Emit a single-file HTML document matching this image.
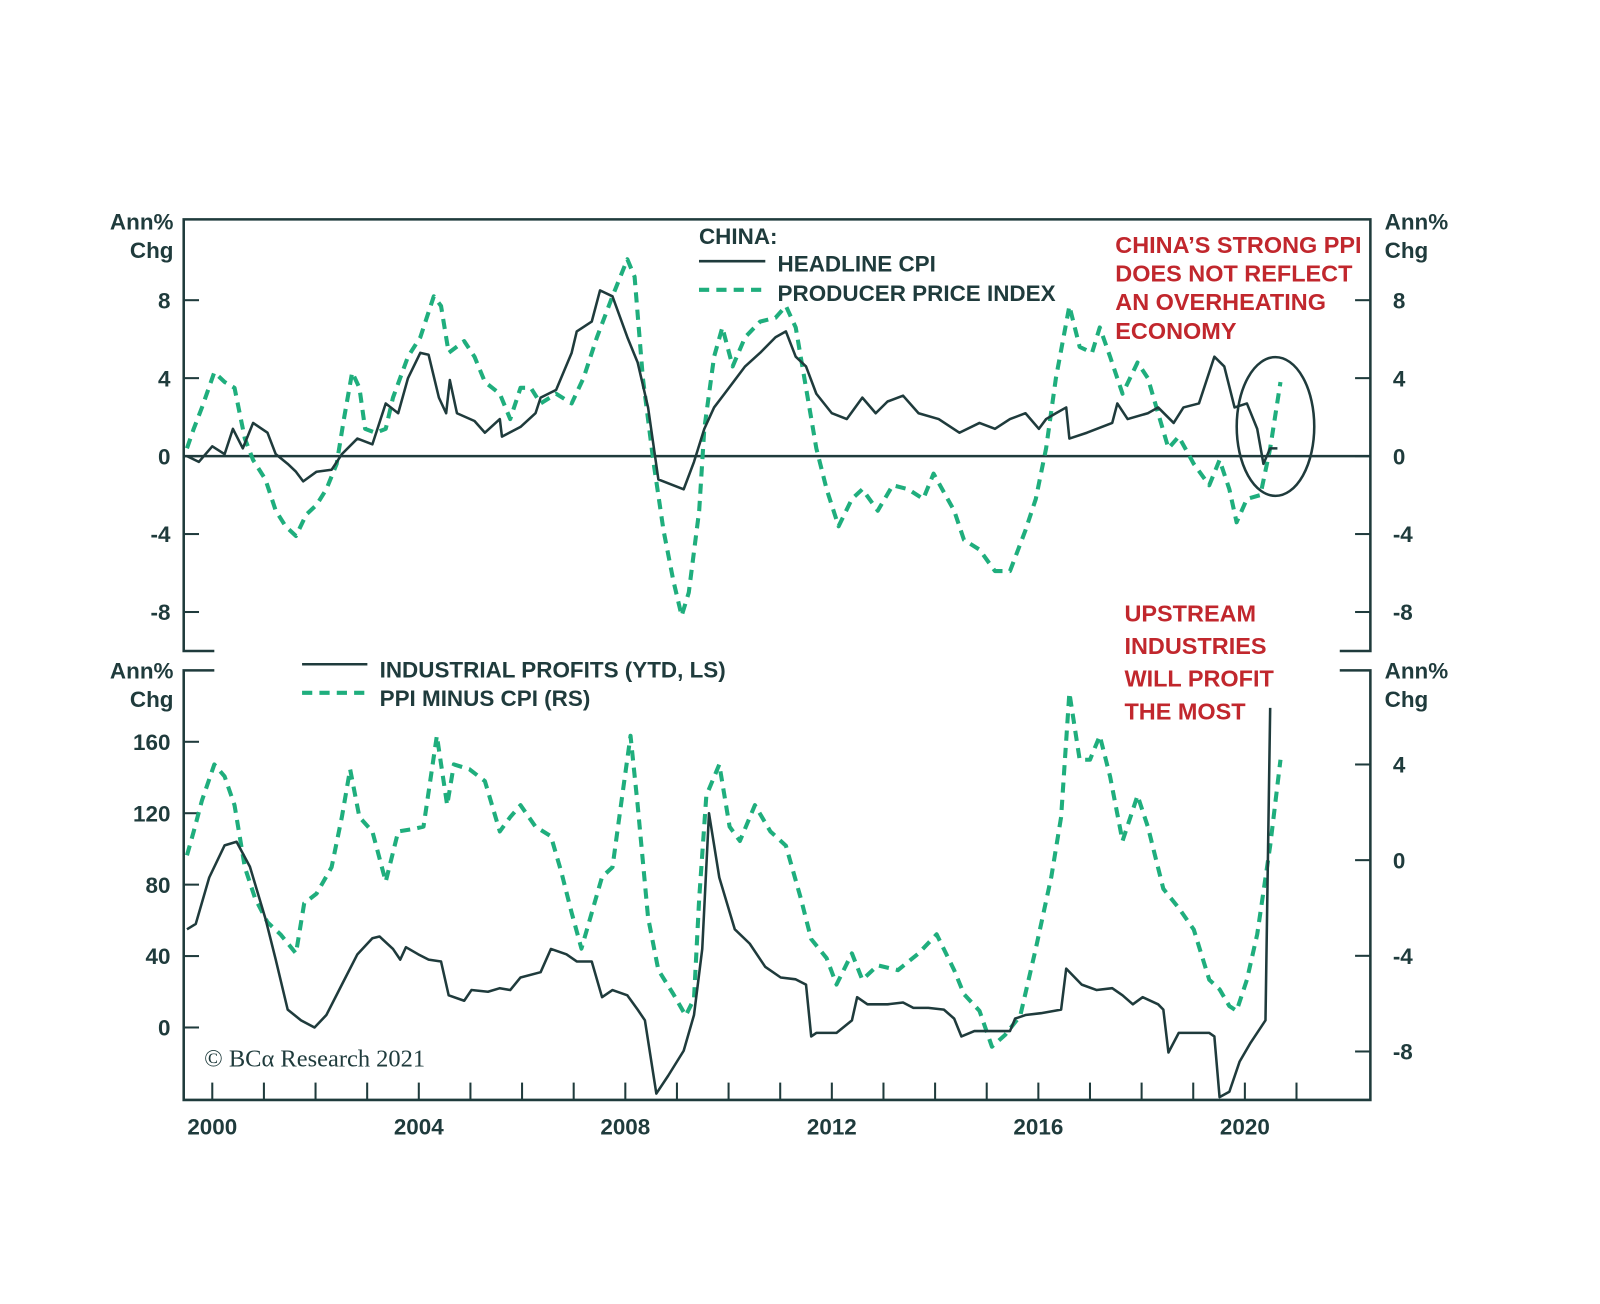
<!DOCTYPE html>
<html><head><meta charset="utf-8"><style>
html,body{margin:0;padding:0;background:#fff;}
svg{display:block;}
.s{font-family:"Liberation Sans",sans-serif;}
</style></head><body>
<svg id="chart" width="1600" height="1304" viewBox="0 0 1568 1278" xmlns="http://www.w3.org/2000/svg"></svg>
<script>
// ---- data ----
const xTickYears=[2000,2001,2002,2003,2004,2005,2006,2007,2008,2009,2010,2011,2012,2013,2014,2015,2016,2017,2018,2019,2020,2021];
const xLabelYears=[2000,2004,2008,2012,2016,2020];
const topTicks=[8,4,0,-4,-8];
const botLeftTicks=[160,120,80,40,0];
const botRightTicks=[4,0,-4,-8];

const cpiDates=[1999.51,1999.74,2000,2000.24,2000.40,2000.59,2000.79,2001.07,2001.23,2001.46,2001.62,2001.76,2002.02,2002.31,2002.51,2002.81,2003.10,2003.36,2003.60,2003.79,2004.03,2004.19,2004.39,2004.53,2004.60,2004.74,2005.08,2005.28,2005.57,2005.61,2005.97,2006.26,2006.36,2006.66,2006.96,2007.06,2007.35,2007.51,2007.75,2008.04,2008.24,2008.44,2008.64,2008.93,2009.13,2009.33,2009.53,2009.72,2009.92,2010.32,2010.61,2010.91,2011.11,2011.30,2011.50,2011.70,2012.00,2012.29,2012.59,2012.85,2013.08,2013.38,2013.68,2014.07,2014.47,2014.86,2015.16,2015.45,2015.75,2016.01,2016.15,2016.34,2016.54,2016.60,2016.94,2017.23,2017.43,2017.53,2017.73,2018.12,2018.32,2018.62,2018.81,2019.11,2019.41,2019.60,2019.80,2020.04,2020.24,2020.36,2020.49,2020.63];
const cpiValues=[0,-0.3,0.5,0.1,1.4,0.4,1.7,1.2,0.1,-0.4,-0.8,-1.3,-0.8,-0.7,0.1,0.9,0.6,2.7,2.2,4.0,5.3,5.2,3.0,2.2,3.9,2.2,1.8,1.2,1.9,1.0,1.5,2.2,3.0,3.4,5.3,6.4,6.9,8.5,8.2,6.1,4.8,2.5,-1.2,-1.5,-1.7,-0.3,1.4,2.5,3.2,4.6,5.3,6.1,6.4,5.1,4.6,3.2,2.2,1.9,3.0,2.2,2.8,3.1,2.2,1.9,1.2,1.7,1.4,1.9,2.2,1.4,1.9,2.2,2.5,0.9,1.2,1.5,1.7,2.7,1.9,2.2,2.5,1.7,2.5,2.7,5.1,4.6,2.5,2.7,1.4,-0.4,0.4,0.4];

const ppiDates=[1999.51,1999.64,1999.80,2000.04,2000.24,2000.43,2000.63,2000.79,2001.03,2001.23,2001.42,2001.62,2001.82,2002.02,2002.21,2002.41,2002.55,2002.71,2002.85,2002.96,2003.16,2003.36,2003.50,2003.79,2004.03,2004.29,2004.43,2004.58,2004.88,2005.08,2005.28,2005.57,2005.77,2005.97,2006.17,2006.36,2006.66,2006.96,2007.19,2007.45,2007.75,2008.04,2008.18,2008.34,2008.54,2008.74,2008.93,2009.09,2009.23,2009.43,2009.53,2009.72,2009.88,2010.08,2010.32,2010.61,2010.91,2011.11,2011.30,2011.50,2011.70,2011.90,2012.13,2012.39,2012.59,2012.89,2013.18,2013.48,2013.77,2013.97,2014.37,2014.56,2014.86,2015.16,2015.45,2015.75,2015.95,2016.15,2016.34,2016.60,2016.80,2017.04,2017.19,2017.39,2017.63,2017.92,2018.12,2018.32,2018.52,2018.72,2019.01,2019.31,2019.51,2019.70,2019.84,2020.04,2020.30,2020.49,2020.69];
const ppiValues=[0.4,1.4,2.5,4.3,3.8,3.5,0.9,-0.2,-1.2,-2.8,-3.6,-4.1,-3.0,-2.5,-1.7,-0.4,1.9,4.3,3.5,1.4,1.2,1.4,3.0,5.1,6.1,8.2,7.7,5.3,5.9,5.1,3.8,3.2,1.9,3.5,3.5,2.7,3.2,2.7,4.0,6.1,8.2,10.1,9.2,4.0,-0.2,-3.8,-6.4,-8.2,-7.0,-2.8,1.4,5.1,6.6,4.6,6.1,6.9,7.1,7.7,6.6,3.5,0.4,-1.7,-3.6,-2.2,-1.7,-2.8,-1.5,-1.7,-2.2,-0.9,-2.8,-4.3,-4.8,-5.9,-5.9,-3.8,-2.2,0.4,4.0,7.7,5.6,5.3,6.6,5.1,3.2,4.8,4.0,2.2,0.4,1.0,-0.4,-1.5,-0.2,-1.7,-3.4,-2.2,-2.0,0.4,3.8];

const profitDates=[1999.51,1999.68,1999.94,2000.24,2000.47,2000.73,2001.03,2001.23,2001.46,2001.72,2001.98,2002.21,2002.51,2002.81,2003.10,2003.24,2003.50,2003.64,2003.75,2003.99,2004.19,2004.43,2004.58,2004.88,2005.02,2005.34,2005.57,2005.77,2005.97,2006.36,2006.56,2006.86,2007.06,2007.35,2007.55,2007.75,2008.04,2008.24,2008.38,2008.60,2008.83,2009.13,2009.33,2009.49,2009.62,2009.82,2010.12,2010.41,2010.71,2011.01,2011.30,2011.50,2011.60,2011.70,2012.09,2012.39,2012.49,2012.69,2013.08,2013.38,2013.58,2013.87,2014.17,2014.37,2014.51,2014.76,2015.06,2015.45,2015.55,2015.75,2016.05,2016.44,2016.54,2016.84,2017.13,2017.43,2017.63,2017.83,2018.02,2018.32,2018.42,2018.52,2018.72,2019.01,2019.31,2019.41,2019.51,2019.70,2019.90,2020.10,2020.40,2020.49];
const profitValues=[55,58,84,102,104,90,61,38,10,4,0,7,24,41,50,51,44,38,45,41,38,37,18,15,21,20,22,21,28,31,44,41,37,37,17,21,18,10,4,-37,-27,-13,7,44,120,84,55,47,34,28,27,24,-5,-3,-3,4,17,13,13,14,11,11,10,5,-5,-2,-2,-2,5,7,8,10,33,24,21,22,18,13,17,13,10,-14,-3,-3,-3,-5,-39,-36,-19,-9,4,179];

const spreadDates=[1999.51,1999.64,1999.80,2000.04,2000.24,2000.43,2000.63,2000.83,2001.07,2001.32,2001.62,2001.78,2002.02,2002.31,2002.51,2002.67,2002.85,2003.10,2003.36,2003.60,2003.89,2004.09,2004.35,2004.55,2004.68,2004.98,2005.28,2005.57,2005.77,2005.97,2006.26,2006.56,2006.76,2006.96,2007.15,2007.35,2007.55,2007.75,2007.94,2008.10,2008.24,2008.44,2008.64,2008.93,2009.17,2009.33,2009.43,2009.57,2009.82,2010.02,2010.22,2010.51,2010.81,2011.11,2011.40,2011.60,2011.90,2012.09,2012.39,2012.59,2012.89,2013.28,2013.68,2014.03,2014.37,2014.56,2014.86,2015.10,2015.36,2015.65,2015.95,2016.25,2016.44,2016.60,2016.80,2017.00,2017.19,2017.39,2017.63,2017.92,2018.12,2018.42,2018.72,2019.01,2019.31,2019.51,2019.70,2019.84,2020.04,2020.24,2020.49,2020.69];
const spreadValues=[0.2,1.2,2.5,4.0,3.5,2.3,-0.3,-1.6,-2.6,-3.1,-3.9,-1.8,-1.4,-0.3,1.8,3.8,1.8,1.2,-0.9,1.2,1.3,1.4,5.2,2.3,4.0,3.8,3.3,1.2,1.8,2.3,1.4,1.0,-0.5,-2.2,-3.7,-2.2,-0.7,-0.3,2.7,5.2,2.3,-2.4,-4.6,-5.6,-6.5,-5.8,-1.6,2.7,4.0,1.4,0.8,2.3,1.2,0.6,-1.6,-3.3,-4.1,-5.2,-3.9,-5.0,-4.4,-4.6,-3.9,-3.1,-4.6,-5.6,-6.3,-7.8,-7.3,-6.5,-3.7,-0.7,1.8,7.0,4.2,4.2,5.2,3.5,0.8,2.7,1.4,-1.2,-2.0,-2.9,-5.0,-5.4,-6.1,-6.3,-5.0,-3.1,0.6,4.2];

// ---- scales ----
const L=180,R=1343,T1=215,B1=638,T2=657,B2=1078;
const xS=y=>208+(y-2000)*50.6;
const yTop=v=>447-v*19.1;
const yBotL=v=>1007-v*1.75;
const yBotR=v=>843-v*23.44;
const DARK="#1f3b3c",GREEN="#1fae7d",RED="#c1272d";
const svg=document.getElementById('chart');
const NS="http://www.w3.org/2000/svg";
function mk(tag,attrs,parent){const e=document.createElementNS(NS,tag);for(const k in attrs)e.setAttribute(k,attrs[k]);(parent||svg).appendChild(e);return e;}
function txt(x,y,s,attrs){const e=mk('text',Object.assign({x:x,y:y,'class':'s'},attrs));e.textContent=s;return e;}

let g=mk('g',{});


const st={stroke:DARK,'stroke-width':2.5,fill:'none'};
mk('polyline',Object.assign({points:`${L+30},${B1} ${L},${B1} ${L},${T1} ${R},${T1} ${R},${B1} ${R-30},${B1}`},st),g);
mk('polyline',Object.assign({points:`${L+30},${T2} ${L},${T2} ${L},${B2} ${R},${B2} ${R},${T2} ${R-30},${T2}`},st),g);
mk('line',{x1:L,x2:R,y1:yTop(0),y2:yTop(0),stroke:DARK,'stroke-width':2.5},g);

const FS=22;
xTickYears.forEach(yr=>{const l=mk('line',{x1:xS(yr),x2:xS(yr),y1:B2,y2:B2-17,stroke:DARK,'stroke-width':2});

});
xLabelYears.forEach(yr=>{const t=txt(xS(yr),1112,String(yr),{'text-anchor':'middle','font-size':FS,'font-weight':'bold',fill:DARK});

});

topTicks.forEach(v=>{const y=yTop(v);
mk('line',{x1:L,x2:L+15,y1:y,y2:y,stroke:DARK,'stroke-width':2});
mk('line',{x1:R-15,x2:R,y1:y,y2:y,stroke:DARK,'stroke-width':2});
const a=txt(167,y+8,String(v),{'text-anchor':'end','font-size':FS,'font-weight':'bold',fill:DARK});


const b=txt(1365,y+8,String(v),{'text-anchor':'start','font-size':FS,'font-weight':'bold',fill:DARK});

});
botLeftTicks.forEach(v=>{const y=yBotL(v);
mk('line',{x1:L,x2:L+15,y1:y,y2:y,stroke:DARK,'stroke-width':2});
const a=txt(167,y+8,String(v),{'text-anchor':'end','font-size':FS,'font-weight':'bold',fill:DARK});

});
botRightTicks.forEach(v=>{const y=yBotR(v);
mk('line',{x1:R-15,x2:R,y1:y,y2:y,stroke:DARK,'stroke-width':2});
const b=txt(1365,y+8,String(v),{'text-anchor':'start','font-size':FS,'font-weight':'bold',fill:DARK});

});

[[170,'end',217,245],[1357,'start',217,245],[170,'end',657,685],[1357,'start',657,685]].forEach(p=>{
const a=txt(p[0],p[2]+8,'Ann%',{'text-anchor':p[1],'font-size':FS,'font-weight':'bold',fill:DARK});


const b=txt(p[0],p[3]+8,'Chg',{'text-anchor':p[1],'font-size':FS,'font-weight':'bold',fill:DARK});

});

function series(dates,vals,ys,dashed,name){
const pts=dates.map((d,i)=>xS(d).toFixed(1)+','+ys(vals[i]).toFixed(1)).join(' ');
const p=mk('polyline',{points:pts,fill:'none',stroke:dashed?GREEN:DARK,'stroke-width':dashed?4:2.5,'stroke-dasharray':dashed?'10,7':'none','stroke-linejoin':'round'});

}
series(ppiDates,ppiValues,yTop,true,'ppi-line');
series(cpiDates,cpiValues,yTop,false,'cpi-line');
series(spreadDates,spreadValues,yBotR,true,'ppi-minus-cpi-line');
series(profitDates,profitValues,yBotL,false,'industrial-profits-line');

const lf={'font-size':FS,'font-weight':'bold',fill:DARK};
let t=txt(685,239,'CHINA:',lf);
mk('line',{x1:685,x2:750,y1:256,y2:256,stroke:DARK,'stroke-width':2.5});
t=txt(762,266,'HEADLINE CPI',lf);
mk('line',{x1:685,x2:750,y1:284,y2:284,stroke:GREEN,'stroke-width':4,'stroke-dasharray':'10,7'});
t=txt(762,295,'PRODUCER PRICE INDEX',lf);
mk('line',{x1:296,x2:360,y1:651,y2:651,stroke:DARK,'stroke-width':2.5});
t=txt(372,664,'INDUSTRIAL PROFITS (YTD, LS)',lf);
mk('line',{x1:296,x2:360,y1:679,y2:679,stroke:GREEN,'stroke-width':4,'stroke-dasharray':'10,7'});
t=txt(372,692,'PPI MINUS CPI (RS)',lf);

const rf={'font-size':23,'font-weight':'bold',fill:RED};
["CHINA\u2019S STRONG PPI","DOES NOT REFLECT","AN OVERHEATING","ECONOMY"].forEach((s,i)=>{const a=txt(1093,248+i*28,s,rf);

});
["UPSTREAM","INDUSTRIES","WILL PROFIT","THE MOST"].forEach((s,i)=>{const a=txt(1102,609+i*32,s,rf);

});
const el=mk('ellipse',{cx:1250,cy:418,rx:38,ry:68,fill:'none',stroke:DARK,'stroke-width':2.5});


t=mk('text',{x:200,y:1045,style:'font-family:"Liberation Serif",serif;font-size:24px',fill:DARK});
t.textContent='\u00A9 BC\u03B1 Research 2021';

</script>
</body></html>
